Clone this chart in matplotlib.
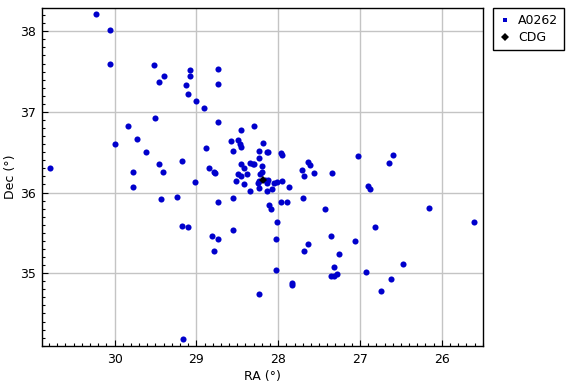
import matplotlib
matplotlib.use("Agg")
import matplotlib.pyplot as plt
from matplotlib.lines import Line2D
from matplotlib.ticker import MultipleLocator

# A0262 galaxies (RA, Dec in degrees)
ra = [30.23, 30.05, 30.05, 29.52, 29.46, 29.40, 29.08, 29.08, 29.13, 29.10,
      29.00, 29.50, 29.84, 29.73, 29.99, 29.62, 30.79, 29.46, 29.18, 29.77,
      29.41, 29.78, 29.02, 29.24, 29.43, 28.73, 28.74, 28.91, 28.74, 28.29,
      28.46, 28.58, 28.49, 28.47, 28.46, 28.19, 28.88, 28.55, 28.24, 28.14,
      28.12, 27.97, 27.95, 28.24, 28.84, 28.79, 28.77, 28.46, 28.42, 28.34,
      28.31, 28.29, 28.20, 28.20, 28.49, 28.46, 28.38, 28.22, 28.51, 28.42,
      28.25, 28.23, 28.16, 28.13, 28.14, 28.05, 28.01, 27.95, 28.23, 28.07,
      27.87, 28.35, 28.14, 28.55, 27.71, 27.69, 27.64, 27.61, 27.56, 27.34,
      27.70, 27.03, 26.60, 26.64, 26.90, 26.88, 28.73, 28.11, 28.09, 27.96,
      27.89, 27.43, 28.01, 29.17, 29.10, 28.55, 27.36, 28.81, 28.74, 28.03,
      27.64, 27.69, 28.79, 27.26, 27.32, 28.03, 27.36, 27.32, 27.28, 27.83,
      27.83, 28.23, 29.16, 26.16, 25.61, 26.82, 27.06, 26.47, 26.93, 26.62,
      26.74]
dec = [38.21, 38.02, 37.60, 37.58, 37.37, 37.45, 37.52, 37.45, 37.33, 37.22,
       37.13, 36.92, 36.83, 36.67, 36.60, 36.50, 36.31, 36.35, 36.39, 36.26,
       36.25, 36.07, 36.13, 35.95, 35.92, 37.53, 37.34, 37.05, 36.87, 36.82,
       36.78, 36.64, 36.65, 36.60, 36.57, 36.62, 36.55, 36.51, 36.51, 36.50,
       36.50, 36.49, 36.46, 36.43, 36.31, 36.26, 36.24, 36.35, 36.31, 36.36,
       36.35, 36.35, 36.33, 36.25, 36.23, 36.20, 36.23, 36.23, 36.14, 36.10,
       36.12, 36.14, 36.16, 36.15, 36.12, 36.12, 36.13, 36.14, 36.05, 36.04,
       36.07, 36.02, 36.02, 35.93, 36.28, 36.21, 36.38, 36.34, 36.24, 36.24,
       35.93, 36.45, 36.46, 36.36, 36.08, 36.04, 35.88, 35.85, 35.79, 35.88,
       35.88, 35.79, 35.64, 35.59, 35.57, 35.53, 35.46, 35.46, 35.42, 35.42,
       35.36, 35.28, 35.28, 35.24, 35.07, 35.04, 34.97, 34.97, 34.99, 34.88,
       34.85, 34.74, 34.18, 35.81, 35.64, 35.57, 35.40, 35.11, 35.02, 34.93,
       34.78]

# CDG
cdg_ra = [28.19]
cdg_dec = [36.15]

series_names = ["A0262", "CDG"]
x_label = "RA (°)"
y_label = "Dec (°)"

W, H = 566, 386
fig = plt.figure(figsize=(W / 100, H / 100), dpi=100)
ax = fig.add_axes([41.7 / W, 1 - 345.7 / H, (482.7 - 41.7) / W, (345.7 - 8.3) / H])

blue = "#0000CC"
ax.plot(ra, dec, linestyle="none", marker="o", markersize=4.4,
        color=blue, markeredgewidth=0, zorder=3)
ax.plot(cdg_ra, cdg_dec, linestyle="none", marker="D", markersize=4.2,
        color="black", markeredgewidth=0, zorder=4)

ax.set_xlim(30.89, 25.50)
ax.set_ylim(34.10, 38.285)

ax.xaxis.set_major_locator(MultipleLocator(1))
ax.yaxis.set_major_locator(MultipleLocator(1))
ax.xaxis.set_minor_locator(MultipleLocator(0.1))
ax.yaxis.set_minor_locator(MultipleLocator(0.1))

ax.grid(True, which="major", color="#c4c4c4", linewidth=1.0, zorder=0)
ax.set_axisbelow(True)

ax.tick_params(which="major", direction="in", length=4, width=0.8,
               labelsize=9, pad=5, colors="black")
ax.tick_params(which="minor", direction="in", length=2.5, width=0.8)
ax.tick_params(axis="y", pad=4)
for s in ax.spines.values():
    s.set_color("black")
    s.set_linewidth(1.0)

ax.set_xlabel(x_label, fontsize=9, labelpad=3)
ax.set_ylabel(y_label, fontsize=9, labelpad=2)

handles = [
    Line2D([], [], linestyle="none", marker="s", markersize=2.6, color=blue,
           markeredgewidth=0, label=series_names[0]),
    Line2D([], [], linestyle="none", marker="D", markersize=3.6, color="black",
           markeredgewidth=0, label=series_names[1]),
]
leg = fig.legend(handles=handles, loc="upper left",
                 bbox_to_anchor=(492.7 / W, 1 - 8.3 / H),
                 fontsize=9, frameon=True, fancybox=False, framealpha=1,
                 edgecolor="black", handlelength=1.0, handletextpad=0.6,
                 borderpad=0.45, labelspacing=0.35, borderaxespad=0)
leg.get_frame().set_linewidth(1.0)

fig.savefig("out.png", dpi=100)
